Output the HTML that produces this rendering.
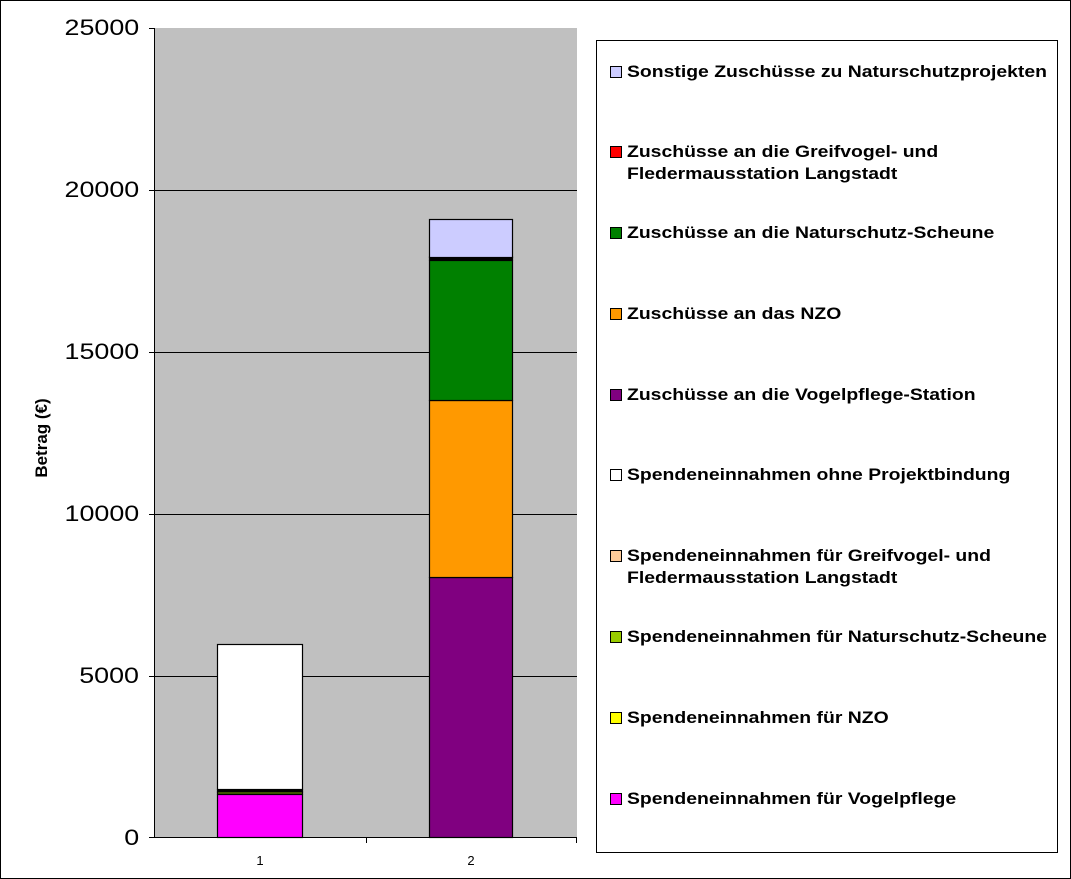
<!DOCTYPE html>
<html><head><style>
body{margin:0;background:#fff;}
.wrap{position:relative;width:1071px;height:879px;overflow:hidden;font-family:"Liberation Sans",Arial,sans-serif;}
.frame{position:absolute;left:0;top:0;width:1069px;height:877px;border:1px solid #000;}
.abs{position:absolute;}
.yl{position:absolute;right:932px;font-size:22px;color:#000;transform:scaleX(1.22);transform-origin:right center;}
.leg{position:absolute;left:596px;top:40px;width:460px;height:811px;border:1px solid #000;background:#fff;}
.it{position:absolute;left:30px;font-size:17px;font-weight:bold;line-height:22px;white-space:nowrap;transform:scaleX(1.14);transform-origin:left center;}
.mk{position:absolute;left:13px;width:10px;height:10px;border:1px solid #000;}
</style></head><body><div class="wrap">
<div class="frame"></div>
<svg class="abs" style="left:0;top:0" width="1071" height="879">
<rect x="155" y="28" width="422" height="810" fill="#c0c0c0"/>
<g stroke="#000" stroke-width="1">
<line x1="155" y1="190.5" x2="577" y2="190.5"/>
<line x1="155" y1="352.5" x2="577" y2="352.5"/>
<line x1="155" y1="514.5" x2="577" y2="514.5"/>
<line x1="155" y1="676.5" x2="577" y2="676.5"/>
<line x1="154.5" y1="28" x2="154.5" y2="838"/>
<line x1="154" y1="837.5" x2="577" y2="837.5"/>
<line x1="149" y1="28.5" x2="155" y2="28.5"/>
<line x1="149" y1="190.5" x2="155" y2="190.5"/>
<line x1="149" y1="352.5" x2="155" y2="352.5"/>
<line x1="149" y1="514.5" x2="155" y2="514.5"/>
<line x1="149" y1="676.5" x2="155" y2="676.5"/>
<line x1="149" y1="837.5" x2="155" y2="837.5"/>
<line x1="366.5" y1="838" x2="366.5" y2="843"/>
<line x1="576.5" y1="838" x2="576.5" y2="843"/>
</g>
<g stroke="#000" stroke-width="1.2">
<rect x="217.5" y="644.5" width="85" height="145" fill="#fff"/>
<rect x="217.5" y="790" width="85" height="2" fill="#000"/>
<rect x="217.5" y="792" width="85" height="2" fill="#99cc00"/>
<rect x="217.5" y="794.5" width="85" height="43" fill="#ff00ff"/>
<rect x="429.5" y="577.5" width="83" height="260" fill="#800080"/>
<rect x="429.5" y="400.5" width="83" height="177" fill="#ff9900"/>
<rect x="429.5" y="260.5" width="83" height="140" fill="#008000"/>
<rect x="429.5" y="257" width="83" height="3" fill="#000"/>
<rect x="429.5" y="219.5" width="83" height="38" fill="#ccccff"/>
</g>
<text x="260" y="865" font-size="13" text-anchor="middle" font-family="Liberation Sans,Arial,sans-serif">1</text>
<text x="471" y="865" font-size="13" text-anchor="middle" font-family="Liberation Sans,Arial,sans-serif">2</text>
<text transform="translate(47,438) rotate(-90)" font-size="17" font-weight="bold" text-anchor="middle" font-family="Liberation Sans,Arial,sans-serif">Betrag (€)</text>
</svg>
<div class="yl" style="top:15px">25000</div>
<div class="yl" style="top:177px">20000</div>
<div class="yl" style="top:339px">15000</div>
<div class="yl" style="top:501px">10000</div>
<div class="yl" style="top:663px">5000</div>
<div class="yl" style="top:825px">0</div>
<div class="leg">
<div class="mk" style="top:25px;background:#ccccff"></div><div class="it" style="top:20px">Sonstige Zuschüsse zu Naturschutzprojekten</div>
<div class="mk" style="top:105px;background:#ff0000"></div><div class="it" style="top:100px">Zuschüsse an die Greifvogel- und<br>Fledermausstation Langstadt</div>
<div class="mk" style="top:186px;background:#008000"></div><div class="it" style="top:181px">Zuschüsse an die Naturschutz-Scheune</div>
<div class="mk" style="top:267px;background:#ff9900"></div><div class="it" style="top:262px">Zuschüsse an das NZO</div>
<div class="mk" style="top:348px;background:#800080"></div><div class="it" style="top:343px">Zuschüsse an die Vogelpflege-Station</div>
<div class="mk" style="top:428px;background:#ffffff"></div><div class="it" style="top:423px">Spendeneinnahmen ohne Projektbindung</div>
<div class="mk" style="top:509px;background:#ffcc99"></div><div class="it" style="top:504px">Spendeneinnahmen für Greifvogel- und<br>Fledermausstation Langstadt</div>
<div class="mk" style="top:590px;background:#99cc00"></div><div class="it" style="top:585px">Spendeneinnahmen für Naturschutz-Scheune</div>
<div class="mk" style="top:671px;background:#ffff00"></div><div class="it" style="top:666px">Spendeneinnahmen für NZO</div>
<div class="mk" style="top:752px;background:#ff00ff"></div><div class="it" style="top:747px">Spendeneinnahmen für Vogelpflege</div>
</div>
</div></body></html>
